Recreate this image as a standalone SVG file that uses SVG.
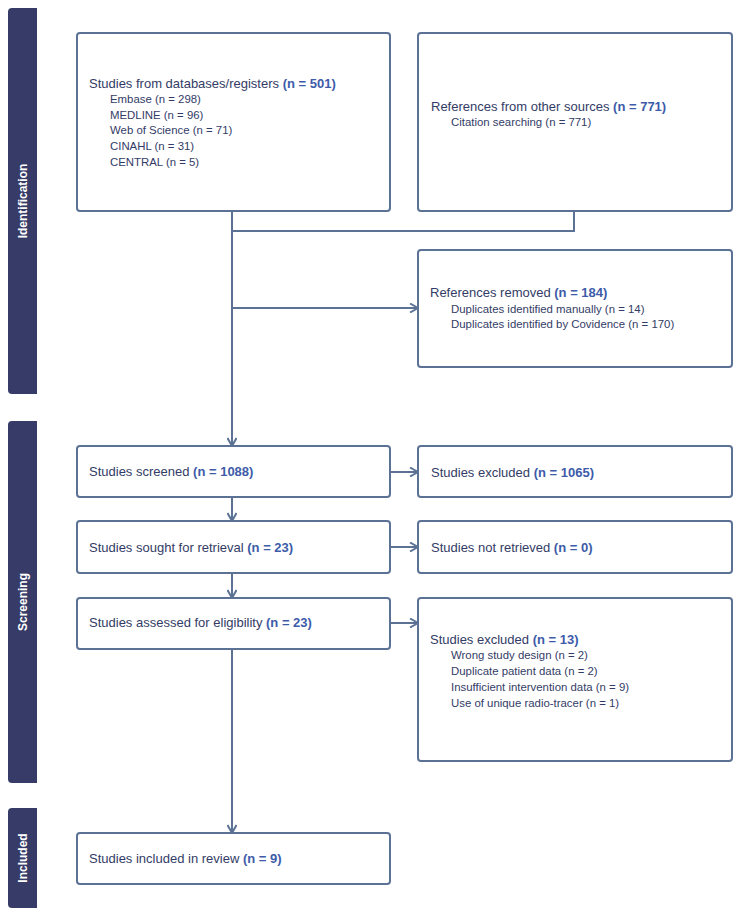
<svg xmlns="http://www.w3.org/2000/svg" width="739" height="914" viewBox="0 0 739 914">
<defs>
<style>
.bar{fill:#363b68}
.lbl{font-family:"Liberation Sans",Arial,sans-serif;font-size:12px;font-weight:bold;fill:#ffffff;text-anchor:middle}
.box{fill:#ffffff;stroke:#5b7295;stroke-width:2}
.h{font-family:"Liberation Sans",Arial,sans-serif;font-size:13px;fill:#333c66}
.s{font-family:"Liberation Sans",Arial,sans-serif;font-size:11.4px;fill:#333c66}
.n{font-weight:bold;fill:#3d5ba9}
.ln{fill:none;stroke:#5b7295;stroke-width:2}
</style>
<marker id="arr" viewBox="0 0 10 10" refX="9" refY="5" markerWidth="10" markerHeight="10" markerUnits="userSpaceOnUse" orient="auto">
<path d="M1,0.5 L9,5 L1,9.5" fill="none" stroke="#5b7295" stroke-width="2"/>
</marker>
</defs>
<rect width="739" height="914" fill="#ffffff"/>

<g id="phase-identification">
<path class="bar" d="M12,8 H37 V394 H12 Q8,394 8,390 V12 Q8,8 12,8 Z"/>
<text class="lbl" transform="translate(27,201) rotate(-90)">Identification</text>
</g>
<g id="phase-screening">
<path class="bar" d="M12,421 H37 V783 H12 Q8,783 8,779 V425 Q8,421 12,421 Z"/>
<text class="lbl" transform="translate(27,602) rotate(-90)">Screening</text>
</g>
<g id="phase-included">
<path class="bar" d="M12,808 H37 V908 H12 Q8,908 8,904 V812 Q8,808 12,808 Z"/>
<text class="lbl" transform="translate(27,858) rotate(-90)">Included</text>
</g>

<g id="connectors">
<path class="ln" d="M232,211 V446" marker-end="url(#arr)"/>
<path class="ln" d="M574,211 V231 H232"/>
<path class="ln" d="M232,308 H418" marker-end="url(#arr)"/>
<path class="ln" d="M232,497 V521" marker-end="url(#arr)"/>
<path class="ln" d="M232,573 V598" marker-end="url(#arr)"/>
<path class="ln" d="M232,649 V833" marker-end="url(#arr)"/>
<path class="ln" d="M390,472 H418" marker-end="url(#arr)"/>
<path class="ln" d="M390,547 H418" marker-end="url(#arr)"/>
<path class="ln" d="M390,623 H418" marker-end="url(#arr)"/>
</g>

<g id="databases">
<rect class="box" x="77" y="33" width="313" height="178" rx="3"/>
<text class="h" x="89" y="88">Studies from databases/registers <tspan class="n">(n = 501)</tspan></text>
<text class="s" x="110" y="103">Embase (n = 298)</text>
<text class="s" x="110" y="118.5">MEDLINE (n = 96)</text>
<text class="s" x="110" y="134">Web of Science (n = 71)</text>
<text class="s" x="110" y="150">CINAHL (n = 31)</text>
<text class="s" x="110" y="166">CENTRAL (n = 5)</text>
</g>

<g id="other-sources">
<rect class="box" x="418" y="33" width="314" height="178" rx="3"/>
<text class="h" x="431" y="110.5">References from other sources <tspan class="n">(n = 771)</tspan></text>
<text class="s" x="451" y="126">Citation searching (n = 771)</text>
</g>

<g id="removed">
<rect class="box" x="418" y="250" width="314" height="117" rx="3"/>
<text class="h" x="430" y="296.5">References removed <tspan class="n">(n = 184)</tspan></text>
<text class="s" x="451" y="313">Duplicates identified manually (n = 14)</text>
<text class="s" x="451" y="328">Duplicates identified by Covidence (n = 170)</text>
</g>

<g id="screened">
<rect class="box" x="77" y="446" width="313" height="51" rx="3"/>
<text class="h" x="89" y="475.5">Studies screened <tspan class="n">(n = 1088)</tspan></text>
</g>

<g id="excluded-screening">
<rect class="box" x="418" y="446" width="314" height="51" rx="3"/>
<text class="h" x="431" y="476.5">Studies excluded <tspan class="n">(n = 1065)</tspan></text>
</g>

<g id="sought">
<rect class="box" x="77" y="521" width="313" height="52" rx="3"/>
<text class="h" x="89" y="551.5">Studies sought for retrieval <tspan class="n">(n = 23)</tspan></text>
</g>

<g id="not-retrieved">
<rect class="box" x="418" y="521" width="314" height="52" rx="3"/>
<text class="h" x="431" y="551.5">Studies not retrieved <tspan class="n">(n = 0)</tspan></text>
</g>

<g id="assessed">
<rect class="box" x="77" y="598" width="313" height="51" rx="3"/>
<text class="h" x="89" y="626.5">Studies assessed for eligibility <tspan class="n">(n = 23)</tspan></text>
</g>

<g id="excluded-eligibility">
<rect class="box" x="418" y="598" width="314" height="163" rx="3"/>
<text class="h" x="430" y="643.5">Studies excluded <tspan class="n">(n = 13)</tspan></text>
<text class="s" x="451" y="659">Wrong study design (n = 2)</text>
<text class="s" x="451" y="675">Duplicate patient data (n = 2)</text>
<text class="s" x="451" y="691">Insufficient intervention data (n = 9)</text>
<text class="s" x="451" y="707">Use of unique radio-tracer (n = 1)</text>
</g>

<g id="included">
<rect class="box" x="77" y="833" width="313" height="51" rx="3"/>
<text class="h" x="89" y="862.5">Studies included in review <tspan class="n">(n = 9)</tspan></text>
</g>
</svg>
